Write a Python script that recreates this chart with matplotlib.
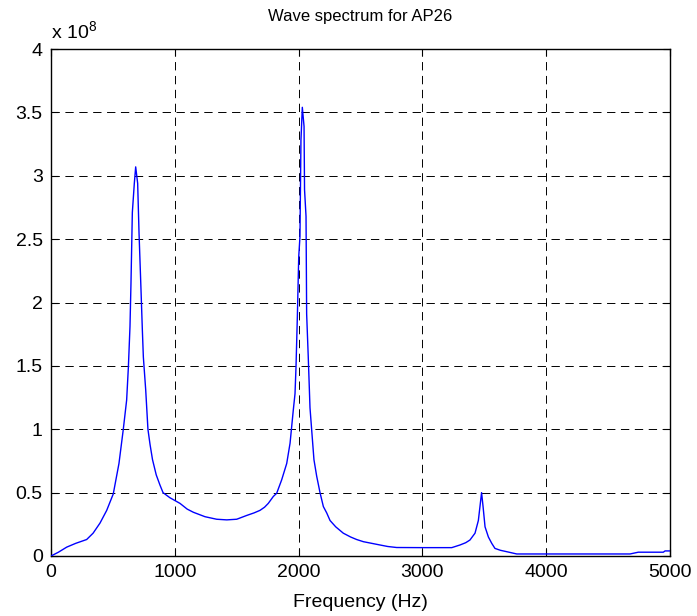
import matplotlib
matplotlib.use("Agg")
import matplotlib.pyplot as plt

plt.rcParams['font.family'] = ['Liberation Sans', 'DejaVu Sans']
plt.rcParams['mathtext.fontset'] = 'custom'
plt.rcParams['mathtext.rm'] = 'Liberation Sans'
plt.rcParams['mathtext.it'] = 'Liberation Sans'
plt.rcParams['lines.scale_dashes'] = False

# frequency (Hz) and amplitude (units of 1e8)
freq = [0, 60, 127, 200, 288, 340, 396, 450, 503, 549, 584, 611, 625, 638, 646,
        657, 673, 684, 700, 711, 727, 738, 746, 765, 783, 800, 820, 850, 880,
        905, 960, 1042, 1100, 1150, 1244, 1338, 1420, 1500, 1581, 1640, 1688,
        1725, 1755, 1796, 1823, 1863, 1904, 1931, 1944, 1957, 1971, 1979, 1990,
        2001, 2011, 2019, 2030, 2044, 2048, 2060, 2065, 2078, 2084, 2092, 2106,
        2124, 2146, 2173, 2200, 2227, 2254, 2300, 2361, 2420, 2469, 2523, 2590,
        2657, 2720, 2792, 3000, 3237, 3304, 3350, 3384, 3425, 3452, 3465, 3478,
        3490, 3506, 3533, 3560, 3586, 3630, 3681, 3762, 4677, 4744, 4946, 4960,
        5000]
amp_e8 = [0.0, 0.03, 0.07, 0.10, 0.13, 0.18, 0.26, 0.36, 0.49, 0.73, 1.00, 1.23,
          1.49, 1.81, 2.15, 2.71, 2.94, 3.07, 2.94, 2.55, 2.10, 1.78, 1.57, 1.31,
          1.00, 0.88, 0.76, 0.64, 0.56, 0.50, 0.46, 0.415, 0.37, 0.345, 0.31,
          0.29, 0.285, 0.29, 0.32, 0.34, 0.36, 0.385, 0.415, 0.47, 0.495, 0.60,
          0.73, 0.89, 1.02, 1.15, 1.28, 1.49, 1.89, 2.36, 2.52, 3.28, 3.54, 3.39,
          2.89, 2.68, 1.91, 1.57, 1.40, 1.17, 0.99, 0.76, 0.63, 0.50, 0.39, 0.34,
          0.28, 0.23, 0.18, 0.15, 0.13, 0.113, 0.10, 0.087, 0.075, 0.067, 0.066,
          0.066, 0.087, 0.105, 0.126, 0.18, 0.28, 0.39, 0.50, 0.39, 0.23, 0.15,
          0.10, 0.06, 0.045, 0.034, 0.016, 0.016, 0.03, 0.03, 0.04, 0.04]

x_ticks = [0, 1000, 2000, 3000, 4000, 5000]
y_ticks = [0, 0.5, 1, 1.5, 2, 2.5, 3, 3.5, 4]
y_labels = ['0', '0.5', '1', '1.5', '2', '2.5', '3', '3.5', '4']

fig = plt.figure(figsize=(6.97, 6.16), dpi=100, facecolor='white')
ax = fig.add_axes([51/697, 1 - 556/616, (670 - 51)/697, (556 - 49)/616])

ax.plot(freq, amp_e8, color='#0000FF', lw=1.0, zorder=3)

ax.set_xlim(0, 5000)
ax.set_ylim(0, 4)
ax.set_xticks(x_ticks)
ax.set_yticks(y_ticks)
ax.set_yticklabels(y_labels)

ax.grid(True, color='black', linestyle=(0, (6, 4)), linewidth=0.7, zorder=1)
ax.set_axisbelow(True)
ax.tick_params(direction='in', length=5, width=0.8, top=True, right=True,
               labelsize=14, pad=6, colors='black')
for s in ax.spines.values():
    s.set_linewidth(1.0)

ax.text(0, 1.014, r'x 10$^{8}$', transform=ax.transAxes, ha='left', va='bottom',
        fontsize=14)
fig.text(360.5/697, 1 - 16/616, 'Wave spectrum for AP26', ha='center', va='center',
         fontsize=12)
ax.set_xlabel('Frequency (Hz)', fontsize=14)
ax.xaxis.set_label_coords(0.5, -0.075)

fig.savefig('out.png', dpi=100)
